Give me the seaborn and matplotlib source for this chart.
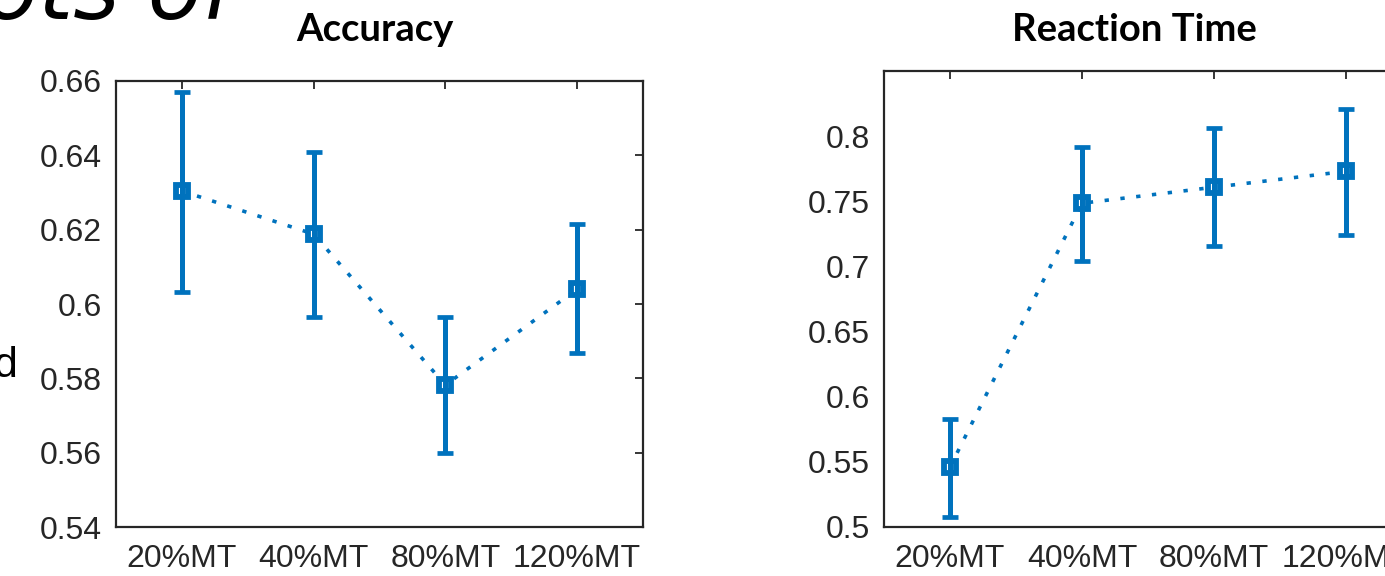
import numpy as np
import pandas as pd
import seaborn as sns
import matplotlib.pyplot as plt

# condition labels (x axis)
conditions = ["20%MT", "40%MT", "80%MT", "120%MT"]

# accuracy: mean and error bar limits
acc_mean = [0.6304, 0.6188, 0.5782, 0.6040]
acc_low = [0.6032, 0.5965, 0.5599, 0.5868]
acc_high = [0.6570, 0.6409, 0.5965, 0.6215]

# reaction time: mean and error bar limits
rt_mean = [0.5460, 0.7485, 0.7608, 0.7730]
rt_low = [0.5077, 0.7038, 0.7160, 0.7238]
rt_high = [0.5830, 0.7915, 0.8060, 0.8210]

blue = "#0072BD"
axcol = "#262626"

sns.set_theme(style="white")
plt.rcParams["font.family"] = ["Liberation Sans", "DejaVu Sans"]

fig = plt.figure(figsize=(13.85, 5.76), dpi=100)
W, H = 1385, 576


def draw_panel(ax, mean, low, high, ylim, yticks, yticklabels):
    df = pd.DataFrame({"cond": conditions, "val": mean})
    sns.lineplot(data=df, x="cond", y="val", ax=ax, color=blue, lw=2.6,
                 linestyle=(0, (1.2, 3.2)), marker="s", markersize=9,
                 markerfacecolor="white", markeredgecolor=blue,
                 markeredgewidth=4.2, zorder=2)
    x = np.arange(len(conditions))
    m = np.array(mean)
    yerr = [m - np.array(low), np.array(high) - m]
    ax.errorbar(x, m, yerr=yerr, fmt="none", ecolor=blue, elinewidth=3.6,
                capsize=6, capthick=3.4, zorder=3)
    ax.set_xlim(-0.5, 3.5)
    ax.set_ylim(*ylim)
    ax.set_xticks(x)
    ax.set_xticklabels(conditions)
    ax.set_yticks(yticks)
    ax.set_yticklabels(yticklabels)
    ax.set_xlabel("")
    ax.set_ylabel("")
    ax.tick_params(direction="in", length=6, width=1.3, colors=axcol,
                   labelsize=23, top=True, right=True)
    ax.tick_params(axis="x", pad=12)
    ax.tick_params(axis="y", pad=10)
    for s in ax.spines.values():
        s.set_visible(True)
        s.set_color(axcol)
        s.set_linewidth(1.6)
    ax.grid(False)


ax1 = fig.add_axes([116 / W, 1 - 527 / H, 527 / W, 446 / H])
draw_panel(ax1, acc_mean, acc_low, acc_high, (0.54, 0.66),
           [0.54, 0.56, 0.58, 0.60, 0.62, 0.64, 0.66],
           ["0.54", "0.56", "0.58", "0.6", "0.62", "0.64", "0.66"])

ax2 = fig.add_axes([884 / W, 1 - 527 / H, 528 / W, 456 / H])
draw_panel(ax2, rt_mean, rt_low, rt_high, (0.5, 0.85),
           [0.5, 0.55, 0.6, 0.65, 0.7, 0.75, 0.8],
           ["0.5", "0.55", "0.6", "0.65", "0.7", "0.75", "0.8"])

# slide titles above each chart
fig.text(375 / W, 1 - 30 / H, "Accuracy", ha="center", va="center",
         fontsize=27.5, fontweight="bold", color="black",
         family=["Lato", "DejaVu Sans"])
fig.text(1134 / W, 1 - 30 / H, "Reaction Time", ha="center", va="center",
         fontsize=27.5, fontweight="bold", color="black",
         family=["Lato", "DejaVu Sans"])

# fragments of surrounding slide text
fig.text(-16 / W, 1 - 19 / H, "ots of", ha="left", va="baseline",
         fontsize=64, style="italic", color="black",
         family=["DejaVu Sans"])
fig.text(-7 / W, 1 - 377 / H, "d", ha="left", va="baseline",
         fontsize=31, color="black", family=["Liberation Sans", "DejaVu Sans"])

fig.savefig("out.png", dpi=100)
